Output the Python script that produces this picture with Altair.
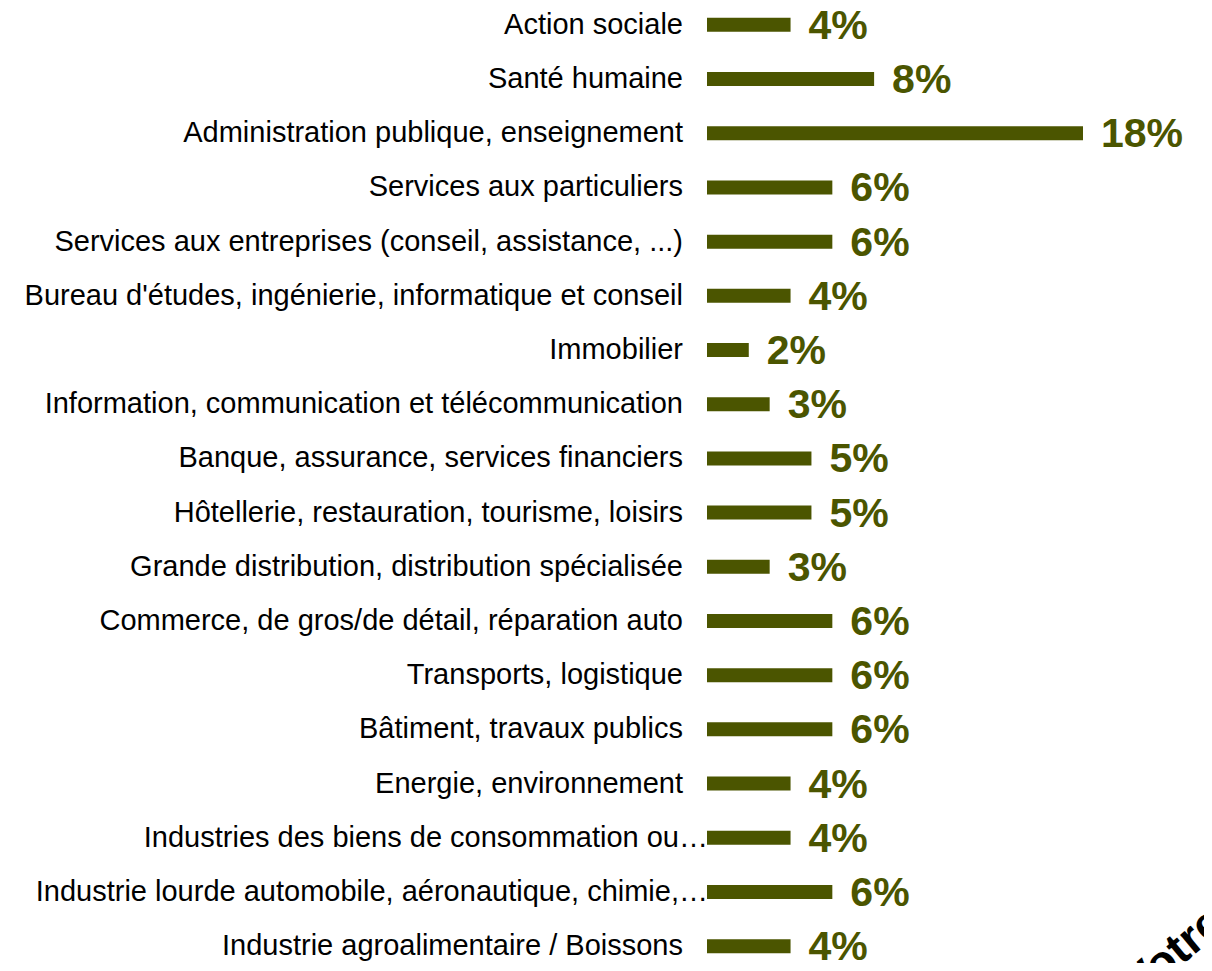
import altair as alt
import pandas as pd

categories = [
    "Action sociale",
    "Santé humaine",
    "Administration publique, enseignement",
    "Services aux particuliers",
    "Services aux entreprises (conseil, assistance, ...)",
    "Bureau d'études, ingénierie, informatique et conseil",
    "Immobilier",
    "Information, communication et télécommunication",
    "Banque, assurance, services financiers",
    "Hôtellerie, restauration, tourisme, loisirs",
    "Grande distribution, distribution spécialisée",
    "Commerce, de gros/de détail, réparation auto",
    "Transports, logistique",
    "Bâtiment, travaux publics",
    "Energie, environnement",
    "Industries des biens de consommation ou…",
    "Industrie lourde automobile, aéronautique, chimie,…",
    "Industrie agroalimentaire / Boissons",
]
values = [4, 8, 18, 6, 6, 4, 2, 3, 5, 5, 3, 6, 6, 6, 4, 4, 6, 4]
value_labels = [f"{v}%" for v in values]

df = pd.DataFrame({
    "cat": categories,
    "value": values,
    "pct": value_labels,
    "idx": list(range(len(categories))),
})

OLIVE = "#4B5500"
FONT = "Liberation Sans"

x = alt.X("value:Q", scale=alt.Scale(domain=[0, 18], nice=False, zero=True), axis=None)
y = alt.Y("idx:Q", scale=alt.Scale(domain=[-0.2191, 17.219], nice=False, zero=False, reverse=True), axis=None)

base = alt.Chart(df)

bars = base.mark_bar(color=OLIVE, size=14).encode(
    x=x, x2=alt.datum(0), y=y
)

pct_text = base.mark_text(
    align="left", baseline="middle", dx=18, dy=2,
    font=FONT, fontSize=41, fontWeight="bold", color=OLIVE
).encode(x=x, y=y, text="pct:N")

cat_text = base.transform_filter(
    "indexof(datum.cat, '…') < 0"
).mark_text(
    align="right", baseline="middle", dx=-24,
    font=FONT, fontSize=29, color="#000000"
).encode(x=alt.datum(0), y=y, text="cat:N")

cat_text_trunc = base.transform_filter(
    "indexof(datum.cat, '…') >= 0"
).mark_text(
    align="right", baseline="middle", dx=1,
    font=FONT, fontSize=29, color="#000000"
).encode(x=alt.datum(0), y=y, text="cat:N")

watermark = alt.Chart(pd.DataFrame({"t": ["Votre"]})).mark_text(
    align="left", baseline="alphabetic", angle=320,
    font=FONT, fontSize=46, fontWeight="bold", color="#000000"
).encode(x=alt.value(432), y=alt.value(993), text="t:N")

chart = alt.layer(bars, pct_text, cat_text, cat_text_trunc, watermark).properties(
    width=376, height=955,
    autosize=alt.AutoSizeParams(type="none"),
    padding={"left": 699, "top": 0, "right": 121, "bottom": 0},
).configure_view(stroke=None)

chart.save("out.html", embed_options={"renderer": "svg", "actions": False})
